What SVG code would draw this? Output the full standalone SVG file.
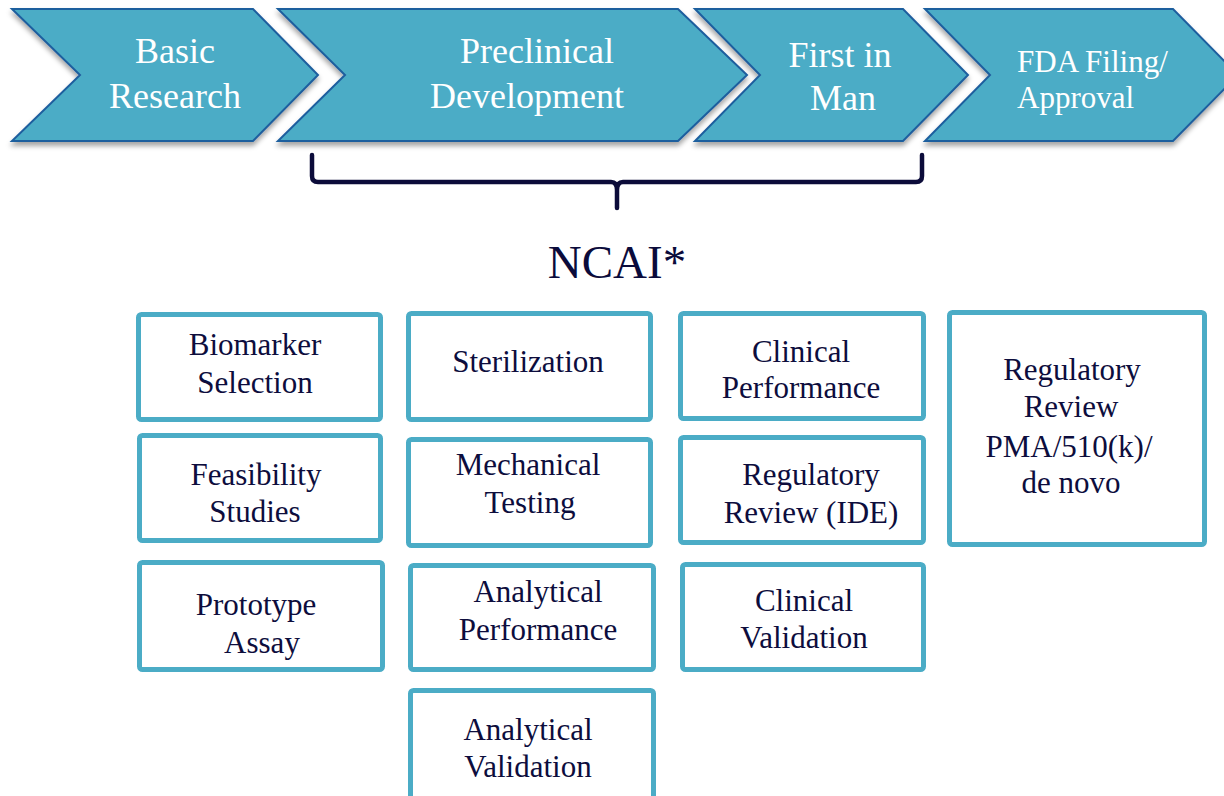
<svg xmlns="http://www.w3.org/2000/svg" width="1224" height="796" viewBox="0 0 1224 796">
<defs>
<filter id="sh" x="-5%" y="-10%" width="110%" height="130%">
<feDropShadow dx="0" dy="4" stdDeviation="2.5" flood-color="#000" flood-opacity="0.35"/>
</filter>
</defs>
<style>
text{font-family:"Liberation Serif","Times New Roman","DejaVu Serif",serif}
.chev{fill:#4BACC6;stroke:#1F5E9E;stroke-width:2;stroke-linejoin:miter}
.ct{font-size:36px;fill:#fff;text-anchor:middle}
.ft{font-size:31px;fill:#fff;text-anchor:start}
.box{fill:#fff;stroke:#4BACC6;stroke-width:5}
.bt{font-size:31px;fill:#0d0d3d;text-anchor:middle}
.nc{font-size:47px;fill:#0b0b3b;text-anchor:middle}
.brace{fill:none;stroke:#0c0c3a;stroke-width:4.5;stroke-linecap:round;stroke-linejoin:round}
</style>
<rect width="1224" height="796" fill="#fff"/>

<g id="basic-research">
<polygon class="chev" filter="url(#sh)" points="12,9 253,9 318,75 253,141 12,141 80,75"/>
<text class="ct" x="175" y="63">Basic</text>
<text class="ct" x="175" y="108">Research</text>
</g>
<g id="preclinical-development">
<polygon class="chev" filter="url(#sh)" points="278,9 678,9 747,75 678,141 278,141 345,75"/>
<text class="ct" x="537" y="63">Preclinical</text>
<text class="ct" x="527" y="108">Development</text>
</g>
<g id="first-in-man">
<polygon class="chev" filter="url(#sh)" points="695,9 903,9 968,75 903,141 695,141 760,75"/>
<text class="ct" x="840" y="67">First in</text>
<text class="ct" x="843" y="110">Man</text>
</g>
<g id="fda-filing">
<polygon class="chev" filter="url(#sh)" points="925,9 1173,9 1238,75 1173,141 925,141 990,75"/>
<text class="ft" x="1017" y="72">FDA Filing/</text>
<text class="ft" x="1017" y="108">Approval</text>
</g>

<g id="connectors">
<path class="brace" d="M312,155 V176 Q312,182 318,182 H611 Q617,182 617,190 V208 M617,190 Q617,182 623,182 H916 Q922,182 922,176 V155"/>
</g>

<g id="ncai">
<text class="nc" x="617" y="278">NCAI*</text>
</g>

<g id="biomarker-selection">
<rect class="box" x="138.5" y="314.5" width="242" height="105" rx="3"/>
<text class="bt" x="255" y="355">Biomarker</text>
<text class="bt" x="255" y="393">Selection</text>
</g>
<g id="feasibility-studies">
<rect class="box" x="139.5" y="435.5" width="241" height="105" rx="3"/>
<text class="bt" x="256" y="485">Feasibility</text>
<text class="bt" x="255" y="522">Studies</text>
</g>
<g id="prototype-assay">
<rect class="box" x="139.5" y="562.5" width="243" height="107" rx="3"/>
<text class="bt" x="256" y="615">Prototype</text>
<text class="bt" x="262" y="653">Assay</text>
</g>

<g id="sterilization">
<rect class="box" x="408.5" y="313.5" width="242" height="106" rx="3"/>
<text class="bt" x="528" y="372">Sterilization</text>
</g>
<g id="mechanical-testing">
<rect class="box" x="408.5" y="439.5" width="242" height="106" rx="3"/>
<text class="bt" x="528" y="475">Mechanical</text>
<text class="bt" x="530" y="513">Testing</text>
</g>
<g id="analytical-performance">
<rect class="box" x="410.5" y="565.5" width="243" height="104" rx="3"/>
<text class="bt" x="538" y="602">Analytical</text>
<text class="bt" x="538" y="640">Performance</text>
</g>
<g id="analytical-validation">
<rect class="box" x="410.5" y="690.5" width="243" height="120" rx="3"/>
<text class="bt" x="528" y="740">Analytical</text>
<text class="bt" x="528" y="777">Validation</text>
</g>

<g id="clinical-performance">
<rect class="box" x="680.5" y="313.5" width="243" height="105" rx="3"/>
<text class="bt" x="801" y="362">Clinical</text>
<text class="bt" x="801" y="398">Performance</text>
</g>
<g id="regulatory-review-ide">
<rect class="box" x="680.5" y="437.5" width="243" height="105" rx="3"/>
<text class="bt" x="811" y="485">Regulatory</text>
<text class="bt" x="811" y="523">Review (IDE)</text>
</g>
<g id="clinical-validation">
<rect class="box" x="682.5" y="564.5" width="241" height="105" rx="3"/>
<text class="bt" x="804" y="611">Clinical</text>
<text class="bt" x="804" y="648">Validation</text>
</g>

<g id="regulatory-review-pma">
<rect class="box" x="949.5" y="312.5" width="255" height="232" rx="3"/>
<text class="bt" x="1072" y="380">Regulatory</text>
<text class="bt" x="1071" y="417">Review</text>
<text class="bt" x="1069" y="457">PMA/510(k)/</text>
<text class="bt" x="1071" y="493">de novo</text>
</g>
</svg>
